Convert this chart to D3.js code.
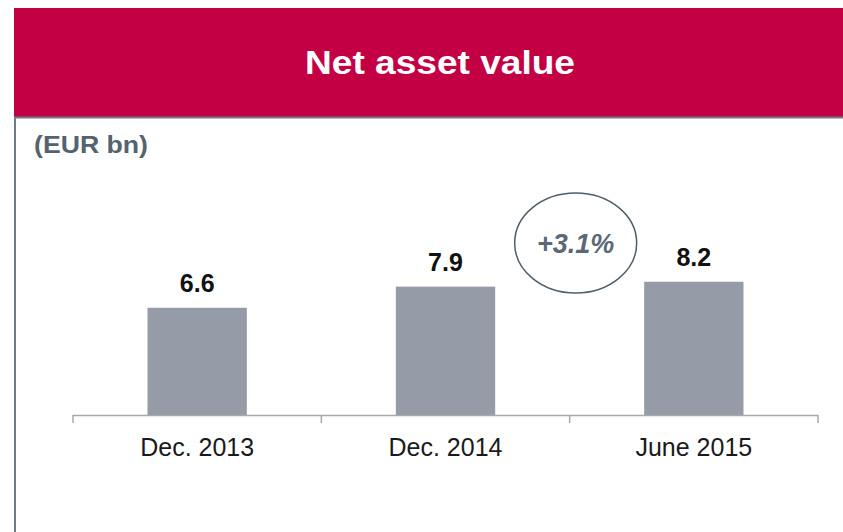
<!DOCTYPE html>
<html>
<head>
<meta charset="utf-8">
<script src="https://cdn.jsdelivr.net/npm/d3@7"></script>
<style>
	body { margin: 0; background: #fff; }
	svg { display: block; font-family: "Liberation Sans", Arial, sans-serif; }
</style>
</head>
<body>
<svg id="chart" width="843" height="532"></svg>
<script>
var categories = ["Dec. 2013", "Dec. 2014", "June 2015"];
var values = [6.6, 7.9, 8.2];
var valueLabels = ["6.6", "7.9", "8.2"];
var growthLabel = "+3.1%";

var svg = d3.select("#chart"),
	width = +svg.attr("width"),
	height = +svg.attr("height");

// header band
svg.append("rect")
	.attr("x", 14).attr("y", 8)
	.attr("width", width - 14).attr("height", 109)
	.attr("fill", "#c40044");

svg.append("text")
	.attr("x", 440).attr("y", 74)
	.attr("text-anchor", "middle")
	.attr("fill", "#fff")
	.attr("font-size", 33)
	.attr("font-weight", "bold")
	.attr("textLength", 270)
	.attr("lengthAdjust", "spacingAndGlyphs")
	.text("Net asset value");

// frame lines
svg.append("line")
	.attr("x1", 14).attr("x2", width)
	.attr("y1", 117.5).attr("y2", 117.5)
	.attr("stroke", "#6f7a86").attr("stroke-width", 2);
svg.append("line")
	.attr("x1", 15).attr("x2", 15)
	.attr("y1", 117).attr("y2", height)
	.attr("stroke", "#6f7a86").attr("stroke-width", 2);

svg.append("text")
	.attr("x", 34).attr("y", 153)
	.attr("fill", "#55636f")
	.attr("font-size", 23)
	.attr("font-weight", "bold")
	.attr("textLength", 114)
	.attr("lengthAdjust", "spacingAndGlyphs")
	.text("(EUR bn)");

// scales
var x = d3.scaleBand()
	.domain(categories)
	.range([73, 818])
	.paddingInner(0.6)
	.paddingOuter(0.3);

var y = d3.scaleLinear()
	.domain([0, 10])
	.range([415, 252.5]);

var g = svg.append("g");

g.selectAll("rect.bar")
	.data(values)
	.enter().append("rect")
	.attr("class", "bar")
	.attr("x", function(d, i) { return x(categories[i]); })
	.attr("y", function(d) { return y(d); })
	.attr("width", x.bandwidth())
	.attr("height", function(d) { return y(0) - y(d); })
	.attr("fill", "#959ca8");

g.selectAll("text.val")
	.data(values)
	.enter().append("text")
	.attr("class", "val")
	.attr("x", function(d, i) { return x(categories[i]) + x.bandwidth() / 2; })
	.attr("y", function(d) { return y(d) - 16; })
	.attr("text-anchor", "middle")
	.attr("font-size", 25)
	.attr("font-weight", "bold")
	.attr("fill", "#111")
	.text(function(d, i) { return valueLabels[i]; });

// axis with ticks on band edges
var edges = categories.map(function(c) { return x(c) - x.step() * x.paddingInner() / 2; });
edges.push(x.range()[1]);
edges[0] = x.range()[0];

g.append("line")
	.attr("x1", x.range()[0]).attr("x2", x.range()[1])
	.attr("y1", y(0) + 0.5).attr("y2", y(0) + 0.5)
	.attr("stroke", "#a9a9a9").attr("stroke-width", 1.5);

g.selectAll("line.tick")
	.data(edges)
	.enter().append("line")
	.attr("class", "tick")
	.attr("x1", function(d) { return d; }).attr("x2", function(d) { return d; })
	.attr("y1", y(0)).attr("y2", y(0) + 8)
	.attr("stroke", "#a9a9a9").attr("stroke-width", 1.5);

g.selectAll("text.cat")
	.data(categories)
	.enter().append("text")
	.attr("class", "cat")
	.attr("x", function(d) { return x(d) + x.bandwidth() / 2; })
	.attr("y", 456)
	.attr("text-anchor", "middle")
	.attr("font-size", 25)
	.attr("fill", "#1a1a1a")
	.text(function(d) { return d; });

// growth bubble between Dec. 2014 and June 2015 (sits a bit right of the gap)
var cx = (x(categories[1]) + x.bandwidth() + x(categories[2])) / 2 + 6;
svg.append("ellipse")
	.attr("cx", cx).attr("cy", 243)
	.attr("rx", 61).attr("ry", 50)
	.attr("fill", "none")
	.attr("stroke", "#4f5d6b")
	.attr("stroke-width", 1.5);

svg.append("text")
	.attr("x", cx).attr("y", 253)
	.attr("text-anchor", "middle")
	.attr("font-size", 27)
	.attr("font-weight", "bold")
	.attr("font-style", "italic")
	.attr("fill", "#5b6875")
	.text(growthLabel);
</script>
</body>
</html>
